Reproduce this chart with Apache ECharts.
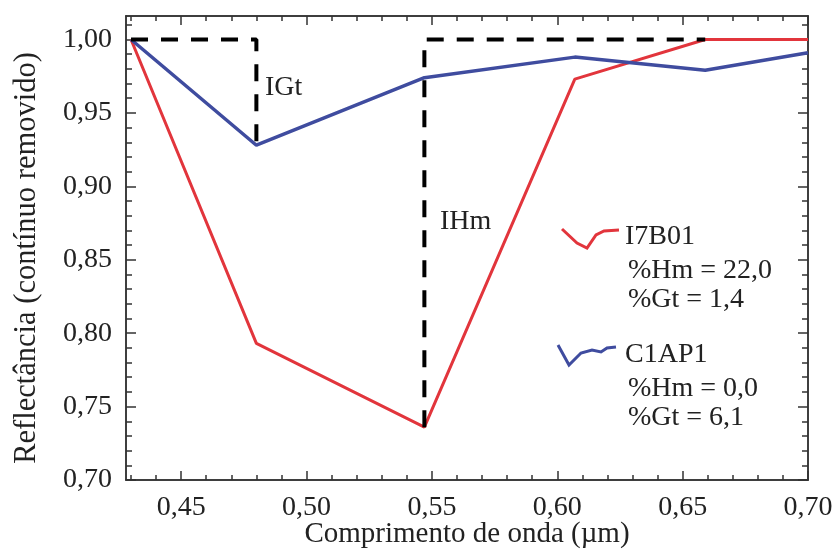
<!DOCTYPE html>
<html>
<head>
<meta charset="utf-8">
<script src="https://cdn.jsdelivr.net/npm/echarts@6/dist/echarts.min.js"></script>
<style>
  html, body { margin: 0; padding: 0; background: #fff; }
  #chart { width: 834px; height: 554px; }
</style>
</head>
<body>
<div id="chart"></div>
<script>
// comprimento de onda (µm) das bandas
const wavelength = [0.43, 0.48, 0.547, 0.607, 0.659, 0.70];
// reflectância com contínuo removido
const i7b01 = [1.00, 0.793, 0.736, 0.973, 1.00, 1.00];
const c1ap1 = [1.00, 0.928, 0.974, 0.988, 0.979, 0.991];

// tracejado das feições IGt e IHm
const igtX = [0.43, 0.48, 0.48];
const igtY = [1.00, 1.00, 0.928];
const ihmX = [0.547, 0.547, 0.659];
const ihmY = [0.736, 1.00, 1.00];

// legenda
const sampleNames = ['I7B01', 'C1AP1'];
const hmValues = ['22,0', '0,0'];
const gtValues = ['1,4', '6,1'];

// ticks
const xMajor = [0.45, 0.50, 0.55, 0.60, 0.65, 0.70];
const xMinor = [0.43, 0.44, 0.46, 0.47, 0.48, 0.49, 0.51, 0.52, 0.53, 0.54, 0.56, 0.57,
  0.58, 0.59, 0.61, 0.62, 0.63, 0.64, 0.66, 0.67, 0.68, 0.69];
const yMajor = [0.70, 0.75, 0.80, 0.85, 0.90, 0.95, 1.00];
const yMinor = [0.71, 0.72, 0.73, 0.74, 0.76, 0.77, 0.78, 0.79, 0.81, 0.82, 0.83, 0.84,
  0.86, 0.87, 0.88, 0.89, 0.91, 0.92, 0.93, 0.94, 0.96, 0.97, 0.98, 0.99, 1.01];

const RED = '#e2353c';
const BLUE = '#3f4c9f';
const AXIS = '#333';
const FONT = '"Liberation Serif", "Times New Roman", serif';
const comma = v => v.toFixed(2).replace('.', ',');

const pairs = (xs, ys) => xs.map((x, i) => [x, ys[i]]);

function makeAxis(kind, position, ticks, len, label) {
  const range = kind === 'x' ? { min: 0.428, max: 0.70 } : { min: 0.70, max: 1.016 };
  return Object.assign({
    type: 'value',
    position: position,
    axisLine: { show: true, onZero: false, lineStyle: { color: AXIS, width: 1.5 } },
    axisTick: { show: true, inside: true, length: len, customValues: ticks, lineStyle: { color: AXIS, width: 1.5 } },
    axisLabel: label || { show: false },
    splitLine: { show: false },
  }, range);
}

const xLabel = {
  customValues: xMajor, formatter: comma, margin: 14,
  fontFamily: FONT, fontSize: 28, color: '#222',
};
const yLabel = {
  customValues: yMajor, formatter: comma, margin: 14,
  fontFamily: FONT, fontSize: 28, color: '#222',
};

const xMain = makeAxis('x', 'bottom', xMajor, 9, xLabel);
xMain.name = 'Comprimento de onda (µm)';
xMain.nameLocation = 'middle';
xMain.nameGap = 40;
xMain.nameMoveOverlap = false;
xMain.nameTextStyle = { fontFamily: FONT, fontSize: 29, color: '#222' };

const yMain = makeAxis('y', 'left', yMajor, 10, yLabel);
yMain.name = 'Reflectância (contínuo removido)';
yMain.nameLocation = 'middle';
yMain.nameGap = 84;
yMain.nameMoveOverlap = false;
yMain.nameTextStyle = { fontFamily: FONT, fontSize: 30.5, color: '#222', padding: [0, 20, 0, 0] };

const chart = echarts.init(document.getElementById('chart'));

const legendGraphics = [];
const iconPts = [
  [[562, 229], [577, 243], [587, 248], [596, 235], [604, 231], [619, 230]],
  [[558, 345], [569, 365], [581, 353], [592, 350], [601, 352], [607, 348], [616, 347]],
];
const colors = [RED, BLUE];
const rowTop = [237, 355];
sampleNames.forEach((name, i) => {
  legendGraphics.push({
    type: 'polyline', shape: { points: iconPts[i] },
    style: { stroke: colors[i], lineWidth: 3, fill: null },
  });
  const lines = [name, '%Hm = ' + hmValues[i], '%Gt = ' + gtValues[i]];
  const dy = [0, 34, 63];
  lines.forEach((t, j) => {
    legendGraphics.push({
      type: 'text', x: j === 0 ? 625 : 628, y: rowTop[i] + dy[j],
      style: { text: t, font: '28px ' + FONT, fill: '#222', verticalAlign: 'middle' },
    });
  });
});

chart.setOption({
  animation: false,
  grid: { left: 126, right: 26, top: 16, bottom: 74, outerBoundsMode: 'none' },
  xAxis: [
    xMain,
    makeAxis('x', 'bottom', xMinor, 5),
    makeAxis('x', 'top', xMajor, 9),
    makeAxis('x', 'top', xMinor, 5),
  ],
  yAxis: [
    yMain,
    makeAxis('y', 'left', yMinor, 6),
    makeAxis('y', 'right', yMajor, 10),
    makeAxis('y', 'right', yMinor, 6),
  ],
  series: [
    {
      name: 'I7B01', type: 'line', data: pairs(wavelength, i7b01),
      symbol: 'none', lineStyle: { color: RED, width: 3 }, z: 2,
    },
    {
      name: 'C1AP1', type: 'line', data: pairs(wavelength, c1ap1),
      symbol: 'none', lineStyle: { color: BLUE, width: 3.5 }, z: 2,
    },
    {
      name: 'IGt', type: 'line', data: pairs(igtX, igtY),
      symbol: 'none', lineStyle: { color: '#000', width: 4, type: [17, 13] }, z: 3,
    },
    {
      name: 'IHm', type: 'line', data: pairs(ihmX, ihmY),
      symbol: 'none', lineStyle: { color: '#000', width: 4, type: [17, 13] }, z: 3,
    },
  ],
  graphic: [
    { type: 'text', x: 265, y: 88, style: { text: 'IGt', font: '28px ' + FONT, fill: '#222', verticalAlign: 'middle' } },
    { type: 'text', x: 440, y: 222, style: { text: 'IHm', font: '28px ' + FONT, fill: '#222', verticalAlign: 'middle' } },
  ].concat(legendGraphics),
});
</script>
</body>
</html>
